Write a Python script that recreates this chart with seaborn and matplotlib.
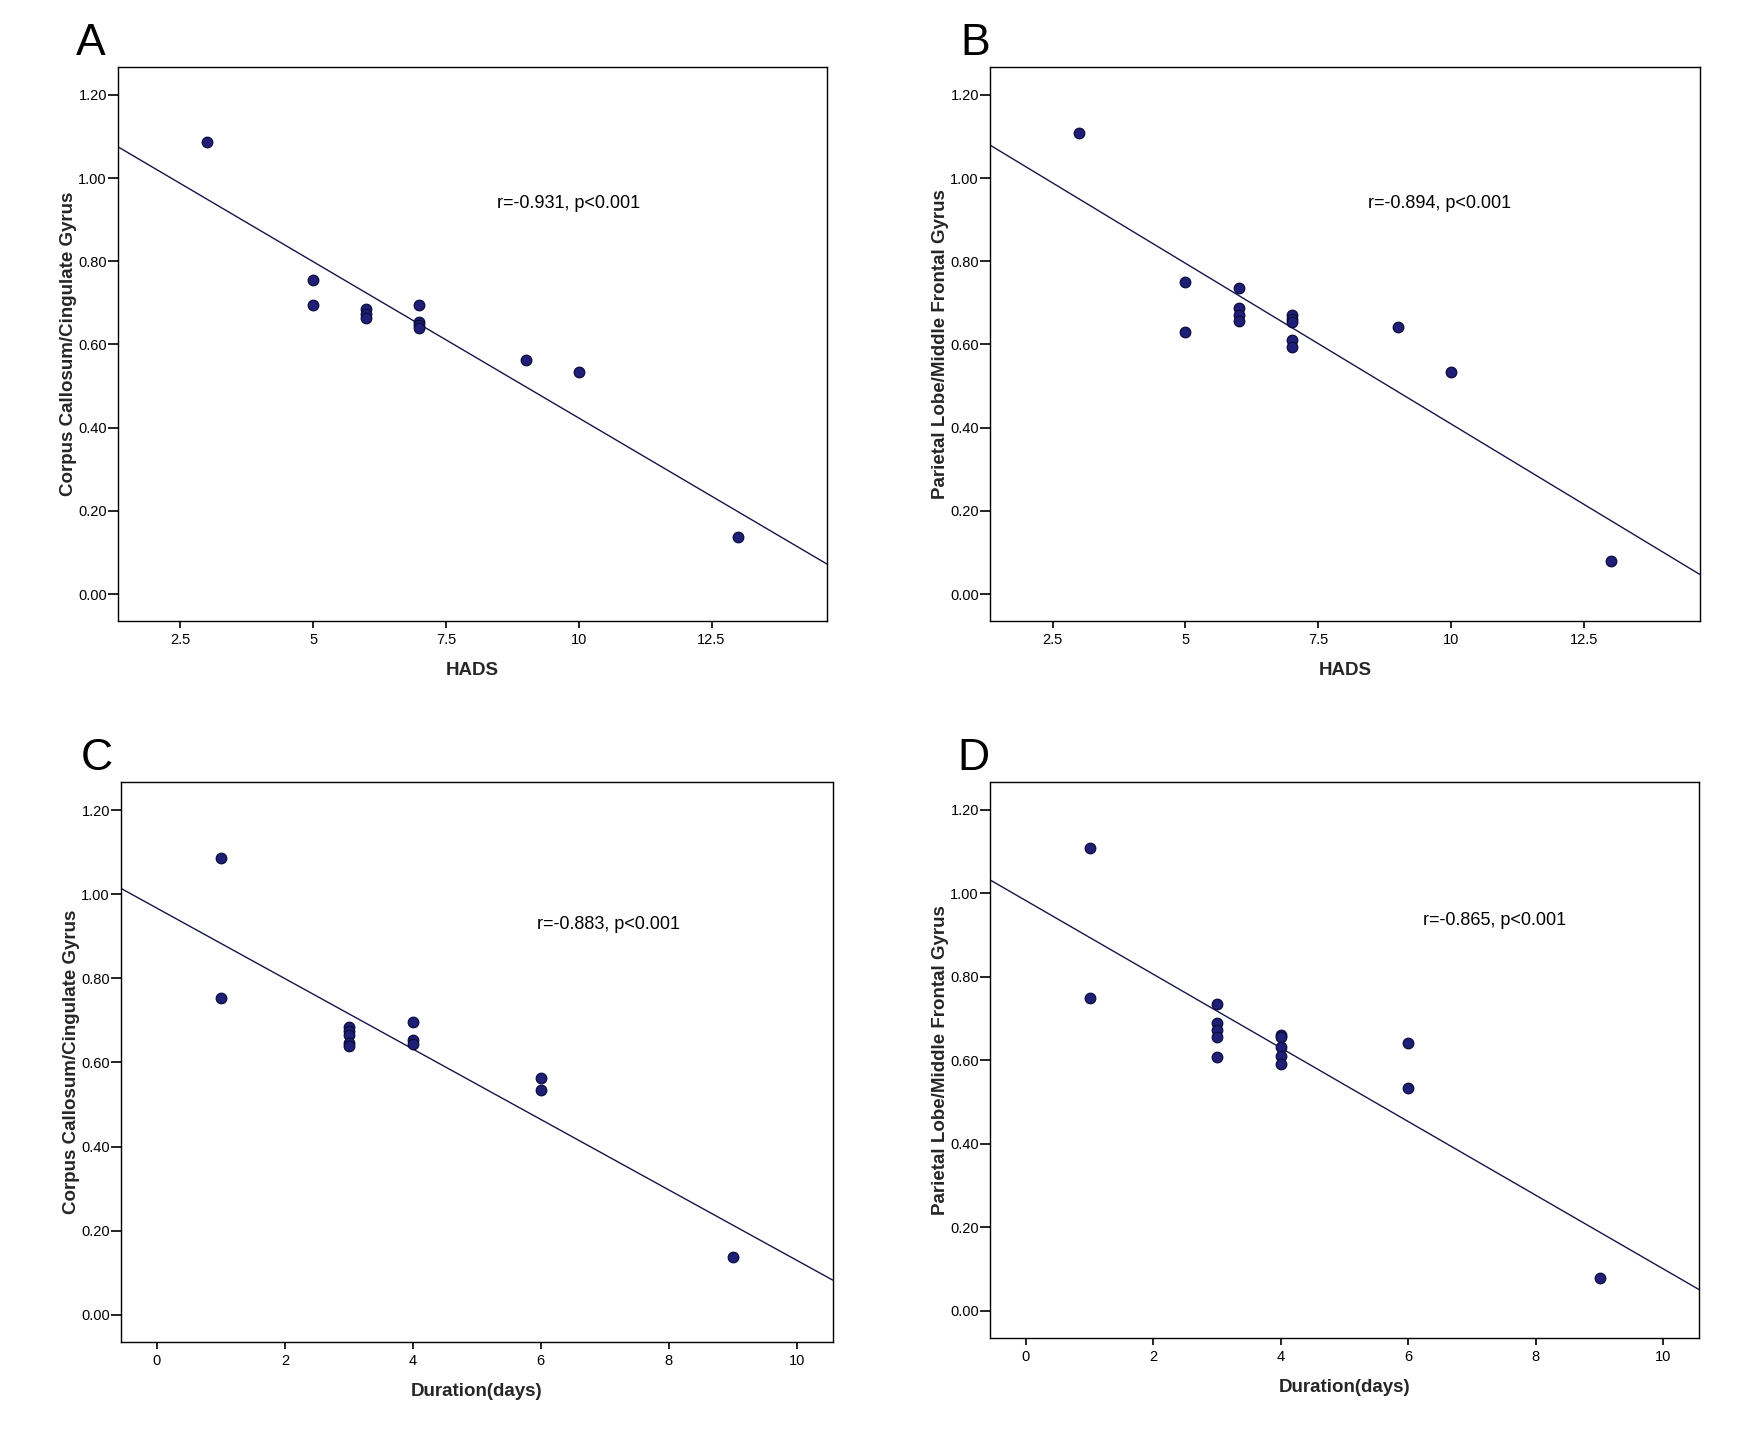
import pandas as pd
import matplotlib
matplotlib.use('Agg')
import matplotlib.pyplot as plt
import seaborn as sns

# Values
hads_a = [3, 5, 5, 6, 6, 6, 7, 7, 7, 7, 9, 10, 13]
cc_a = [1.087, 0.754, 0.696, 0.685, 0.674, 0.663, 0.696, 0.655, 0.648, 0.639, 0.563, 0.535, 0.138]

hads_b = [3, 5, 5, 6, 6, 6, 6, 7, 7, 7, 7, 7, 9, 10, 13]
pl_b = [1.109, 0.751, 0.631, 0.736, 0.688, 0.672, 0.656, 0.670, 0.661, 0.653, 0.611, 0.593, 0.642, 0.533, 0.079]

dur_c = [1, 1, 3, 3, 3, 3, 3, 4, 4, 4, 6, 6, 9]
cc_c = [1.087, 0.754, 0.685, 0.675, 0.666, 0.647, 0.640, 0.697, 0.653, 0.645, 0.563, 0.535, 0.137]

dur_d = [1, 1, 3, 3, 3, 3, 3, 4, 4, 4, 4, 4, 6, 6, 9]
pl_d = [1.109, 0.750, 0.736, 0.689, 0.672, 0.657, 0.608, 0.660, 0.655, 0.631, 0.611, 0.592, 0.642, 0.533, 0.078]

r_text = ['r=-0.931, p<0.001', 'r=-0.894, p<0.001', 'r=-0.883, p<0.001', 'r=-0.865, p<0.001']
panel_letters = ['A', 'B', 'C', 'D']
y_ticks = [0.0, 0.2, 0.4, 0.6, 0.8, 1.0, 1.2]
hads_ticks = [2.5, 5, 7.5, 10, 12.5]
hads_labels = ['2.5', '5', '7.5', '10', '12.5']
dur_ticks = [0, 2, 4, 6, 8, 10]

sns.set_style('white')
plt.rcParams['font.family'] = ['Liberation Sans', 'DejaVu Sans']

dot_color = '#1f1f78'
edge_color = '#0c0c3c'
line_color = '#15154a'

panels = [
    dict(x='HADS', y='Corpus Callosum/Cingulate Gyrus',
         df=pd.DataFrame({'HADS': hads_a, 'Corpus Callosum/Cingulate Gyrus': cc_a}),
         rect=[0.0677, 0.5657, 0.4065, 0.3874], xlim=(1.325, 14.675),
         xt=hads_ticks, xl=hads_labels, txt=(0.534, 0.754), letter=(0.0436, 0.9615)),
    dict(x='HADS', y='Parietal Lobe/Middle Frontal Gyrus',
         df=pd.DataFrame({'HADS': hads_b, 'Parietal Lobe/Middle Frontal Gyrus': pl_b}),
         rect=[0.5677, 0.5657, 0.4070, 0.3874], xlim=(1.325, 14.675),
         xt=hads_ticks, xl=hads_labels, txt=(0.532, 0.754), letter=(0.5505, 0.9615)),
    dict(x='Duration(days)', y='Corpus Callosum/Cingulate Gyrus',
         df=pd.DataFrame({'Duration(days)': dur_c, 'Corpus Callosum/Cingulate Gyrus': cc_c}),
         rect=[0.0694, 0.0615, 0.4080, 0.3916], xlim=(-0.56, 10.56),
         xt=dur_ticks, xl=[str(t) for t in dur_ticks], txt=(0.584, 0.746), letter=(0.0464, 0.4615)),
    dict(x='Duration(days)', y='Parietal Lobe/Middle Frontal Gyrus',
         df=pd.DataFrame({'Duration(days)': dur_d, 'Parietal Lobe/Middle Frontal Gyrus': pl_d}),
         rect=[0.5677, 0.0643, 0.4065, 0.3890], xlim=(-0.56, 10.56),
         xt=dur_ticks, xl=[str(t) for t in dur_ticks], txt=(0.611, 0.7505), letter=(0.5487, 0.4615)),
]

fig = plt.figure(figsize=(17.44, 14.30), dpi=100)

for i, p in enumerate(panels):
    ax = fig.add_axes(p['rect'])
    # limits first so the fitted line runs across the whole box
    ax.set_xlim(*p['xlim'])
    ax.set_ylim(-0.065, 1.267)
    sns.regplot(data=p['df'], x=p['x'], y=p['y'], ax=ax, ci=None, truncate=False,
                scatter_kws=dict(s=58, color=dot_color, edgecolor=edge_color,
                                 linewidths=0.9, alpha=1, zorder=3),
                line_kws=dict(color=line_color, lw=1.0, zorder=2))
    ax.set_xlim(*p['xlim'])
    ax.set_ylim(-0.065, 1.267)

    ax.set_xticks(p['xt'])
    ax.set_xticklabels(p['xl'])
    ax.set_yticks(y_ticks)
    ax.set_yticklabels([f'{v:.2f}' for v in y_ticks])
    ax.tick_params(axis='x', direction='out', length=5, width=1.2, pad=3.5,
                   labelsize=10.5, colors='black', bottom=True, top=False)
    ax.tick_params(axis='y', direction='out', length=7, width=1.2, pad=1,
                   labelsize=10.5, colors='black', left=True, right=False)
    for s in ax.spines.values():
        s.set_visible(True)
        s.set_color('black')
        s.set_linewidth(1.0)

    ax.set_xlabel(p['x'], fontsize=13.5, fontweight='bold')
    ax.set_ylabel(p['y'], fontsize=13.5, fontweight='bold')
    ax.xaxis.set_label_coords(0.5, -0.074)
    ax.yaxis.set_label_coords(-0.058, 0.5)

    ax.text(p['txt'][0], p['txt'][1], r_text[i], transform=ax.transAxes,
            ha='left', va='center', fontsize=13, color='black')
    fig.text(p['letter'][0], p['letter'][1], panel_letters[i], fontsize=32,
             ha='left', va='baseline', color='black')

fig.savefig('out.png', dpi=100, facecolor='white')
